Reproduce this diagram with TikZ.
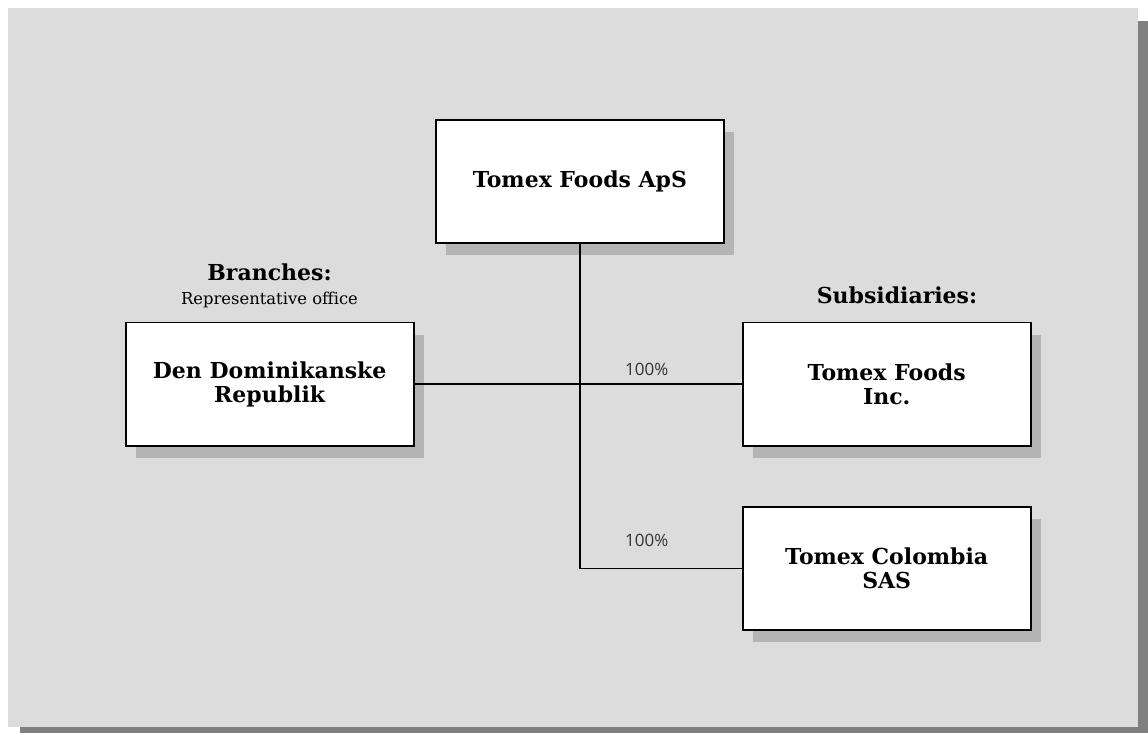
\documentclass[tikz,border=0pt]{standalone}
\usepackage{fontspec}
\setmainfont{DejaVu Serif}
\newfontfamily\pctfont{Open Sans}
\usetikzlibrary{shadows}
\definecolor{panel}{HTML}{DCDCDC}
\definecolor{panelShade}{HTML}{808080}
\definecolor{boxShade}{HTML}{B4B4B4}
\tikzset{
  orgbox/.style={draw=black,line width=0.8pt,fill=white,minimum width=144pt,minimum height=61.5pt,
                 align=center,font=\bfseries\fontsize{11}{12}\selectfont,
                 drop shadow={shadow xshift=5pt,shadow yshift=-6pt,fill=boxShade,opacity=1}},
  link/.style={line width=0.8pt},
  pct/.style={anchor=base,font=\pctfont\fontsize{8.5}{9}\selectfont,text=black!80},
  head/.style={anchor=base,font=\bfseries\fontsize{11}{12}\selectfont},
  note/.style={anchor=base,font=\fontsize{8.2}{9}\selectfont}
}
\begin{document}
\begin{tikzpicture}[x=0.5pt,y=-0.5pt]
  \useasboundingbox (0,0) rectangle (1148,733);
  \begin{scope}
    \clip (0,0) rectangle (1148,733);
    \fill[panelShade] (20,21) rectangle (1160,745);
  \end{scope}
  \fill[panel] (8,8) rectangle (1138,727);

  \node[orgbox] (parent) at (580,181.5) {Tomex Foods ApS};
  \node[orgbox] (branch) at (269.7,384.2) {Den Dominikanske\\Republik};
  \node[orgbox] (subA) at (886.7,384.2) {Tomex Foods\\Inc.};
  \node[orgbox] (subB) at (886.7,568.3) {Tomex Colombia\\SAS};

  \coordinate (foot) at (parent.south |- subB.west);
  \draw[link] (parent.south) -- (foot) -- (subB.west);
  \draw[link] (branch.east) -- (subA.west);

  \node[pct] (pctA) at (646.7,375.7) {100\%};
  \node[pct] (pctB) at (646.7,546.7) {100\%};
  \node[head] (branchHead) at (269.5,281) {Branches:};
  \node[note] (branchNote) at (269.5,305) {Representative office};
  \node[head] (subHead) at (897,303.3) {Subsidiaries:};
\end{tikzpicture}
\end{document}
